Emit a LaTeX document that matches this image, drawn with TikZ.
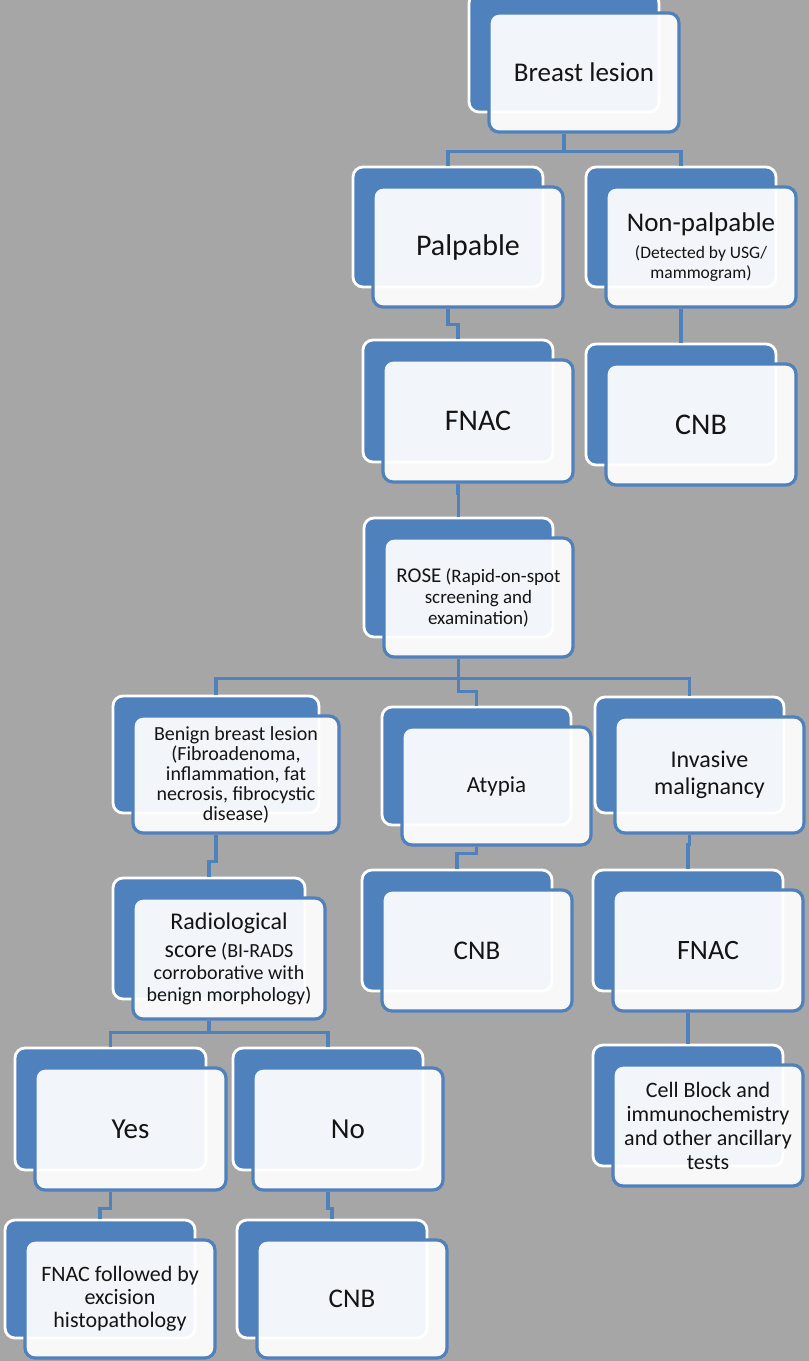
\documentclass[tikz,border=0pt]{standalone}
\usepackage{fontspec}
\setmainfont{Carlito}
\definecolor{bgc}{HTML}{A6A6A6}
\definecolor{sblue}{HTML}{4F81BD}
\tikzset{
  backbox/.style={draw=white, line width=2.8pt, fill=sblue, rounded corners=10pt, inner sep=0pt},
  frontbox/.style={draw=sblue, line width=3.2pt, fill=white, fill opacity=0.93, text opacity=1,
    rounded corners=10pt, inner sep=2pt, align=flush center, text=black!92},
  link/.style={draw=sblue, line width=3.2pt},
}
\newcommand\twobox[7]{%
  \pgfmathsetmacro\tw{#4-8}%
  \node[backbox, minimum width=#4pt, minimum height=#5pt] (b#1) at ({#2+#4/2},{#3+#5/2}) {};
  \node[frontbox, minimum width=#4pt, minimum height=#5pt, text width=\tw pt, font=#6] (#1)
    at ({#2+#4/2+20},{#3+#5/2+20}) {#7};
}
\begin{document}
\begin{tikzpicture}[x=1pt,y=-1pt]
\useasboundingbox (0,0) rectangle (809,1361);
\fill[bgc] (0,0) rectangle (809,1361);

\twobox{Breast}{469}{-7}{190}{119}{\fontsize{27}{30}\selectfont}{Breast lesion}
\twobox{Pal}{353}{167}{190}{120}{\fontsize{30}{32}\selectfont}{Palpable}
\twobox{Non}{586}{167}{190}{120}{\fontsize{27}{20}\selectfont}{Non-palpable\\[7pt]\fontsize{17.5}{20}\selectfont (Detected by USG/\\mammogram)}
\twobox{FNACa}{363}{340}{190}{122}{\fontsize{30}{32}\selectfont}{FNAC}
\twobox{CNBa}{586}{344}{190}{121}{\fontsize{30}{32}\selectfont}{CNB}
\twobox{ROSE}{364}{518}{189}{119}{\fontsize{19}{21}\selectfont}{{\fontsize{21}{21}\selectfont ROSE} (Rapid-on-spot\\screening and\\examination)}
\twobox{Ben}{113}{696}{206}{117}{\fontsize{20}{20}\selectfont}{Benign breast lesion\\(Fibroadenoma,\\inflammation, fat\\necrosis, fibrocystic\\disease)}
\twobox{Aty}{382}{707}{189}{118}{\fontsize{23}{25}\selectfont}{Atypia}
\twobox{Inv}{595}{697}{189}{116}{\fontsize{24}{27}\selectfont}{Invasive\\malignancy}
\twobox{Rad}{113}{878}{192}{121}{\fontsize{20}{22}\selectfont}{{\fontsize{24}{22}\selectfont Radiological\\[6pt]score} (BI-RADS\\corroborative with\\benign morphology)}
\twobox{CNBb}{362}{870}{190}{121}{\fontsize{27}{30}\selectfont}{CNB}
\twobox{FNACb}{593}{870}{190}{121}{\fontsize{28}{30}\selectfont}{FNAC}
\twobox{Cell}{593}{1045}{190}{121}{\fontsize{22}{24}\selectfont}{Cell Block and\\immunochemistry\\and other ancillary\\tests}
\twobox{Yes}{15}{1048}{191}{122}{\fontsize{29}{30}\selectfont}{Yes}
\twobox{No}{233}{1048}{190}{122}{\fontsize{29}{30}\selectfont}{No}
\twobox{FNACc}{5}{1220}{190}{118}{\fontsize{22}{23}\selectfont}{FNAC followed by\\excision\\histopathology}
\twobox{CNBc}{237}{1220}{190}{118}{\fontsize{27}{30}\selectfont}{CNB}

\draw[link] (Breast.south -| bBreast.south) -- ++(0,18) -| (bPal.north);
\draw[link] (Breast.south -| bBreast.south) -- ++(0,18) -| (bNon.north);
\draw[link] (Pal.south -| bPal.south) -- ++(0,16) -| (bFNACa.north);
\draw[link] (Non.south -| bNon.south) -- ++(0,10) -| (bCNBa.north);
\draw[link] (FNACa.south -| bFNACa.south) -- ++(0,10) -| (bROSE.north);
\draw[link] (ROSE.south -| bROSE.south) -- ++(0,20) -| (bBen.north);
\draw[link] (ROSE.south -| bROSE.south) -- ++(0,20) -| (bInv.north);
\draw[link] (ROSE.south -| bROSE.south) -- ++(0,33) -| (bAty.north);
\draw[link] (Ben.south -| bBen.south) -- ++(0,27) -| (bRad.north);
\draw[link] (Aty.south -| bAty.south) -- ++(0,7) -| (bCNBb.north);
\draw[link] (Inv.south -| bInv.south) -- ++(0,10) -| (bFNACb.north);
\draw[link] (FNACb.south -| bFNACb.south) -- ++(0,10) -| (bCell.north);
\draw[link] (Rad.south -| bRad.south) -- ++(0,12) -| (bYes.north);
\draw[link] (Rad.south -| bRad.south) -- ++(0,12) -| (bNo.north);
\draw[link] (Yes.south -| bYes.south) -- ++(0,17) -| (bFNACc.north);
\draw[link] (No.south -| bNo.south) -- ++(0,17) -| (bCNBc.north);
\end{tikzpicture}
\end{document}
